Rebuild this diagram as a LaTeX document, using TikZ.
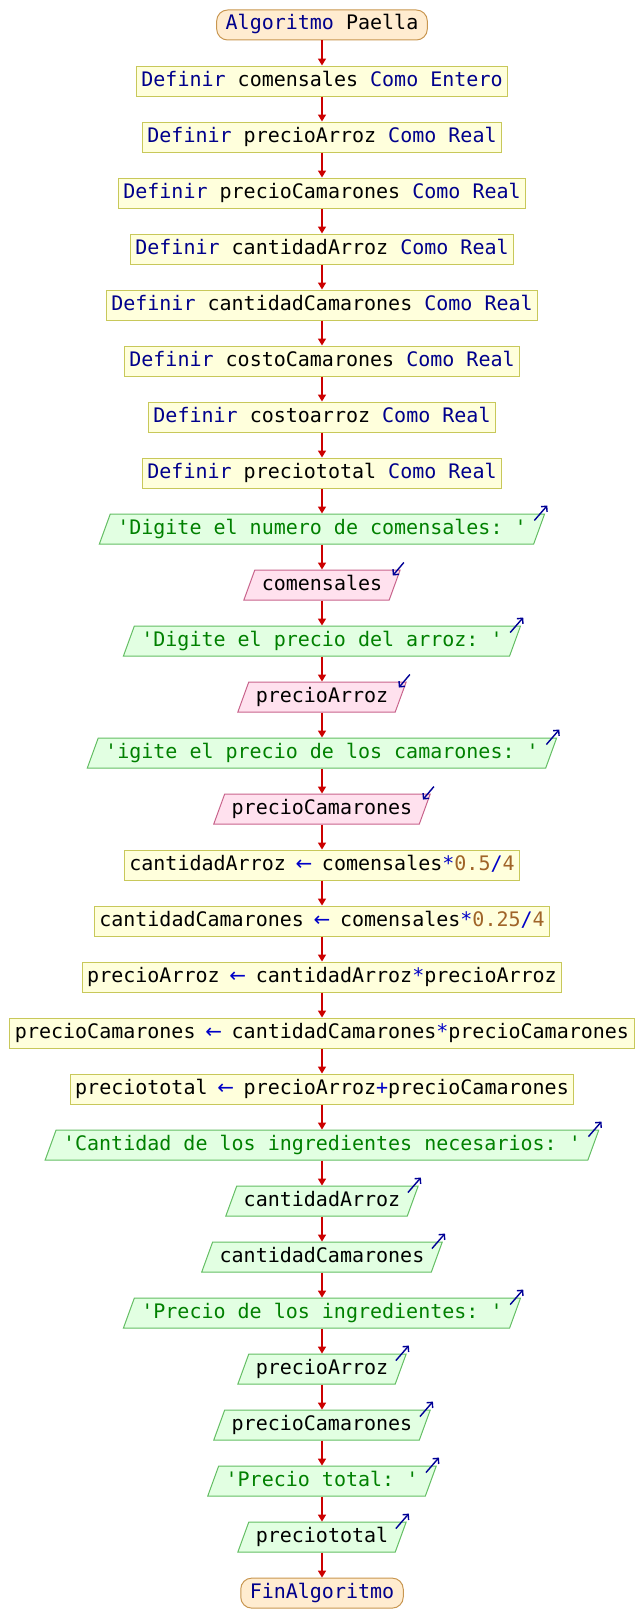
\documentclass[tikz,border=0pt]{standalone}
\usepackage{fontspec}
\setmonofont{DejaVu Sans Mono}
\newfontfamily\flechafont{DejaVu Sans}
\usetikzlibrary{positioning,shapes.geometric,arrows.meta}
\definecolor{kwazul}{RGB}{0,0,140}
\definecolor{opazul}{RGB}{0,0,200}
\definecolor{cadverde}{RGB}{0,128,0}
\definecolor{nromarron}{RGB}{160,100,40}
\definecolor{flecha}{RGB}{204,0,0}
\definecolor{iconazul}{RGB}{0,0,150}
\definecolor{termfondo}{RGB}{255,236,208}
\definecolor{termborde}{RGB}{200,150,80}
\definecolor{procfondo}{RGB}{255,255,220}
\definecolor{procborde}{RGB}{200,200,90}
\definecolor{salfondo}{RGB}{226,255,226}
\definecolor{salborde}{RGB}{100,190,100}
\definecolor{entfondo}{RGB}{255,225,238}
\definecolor{entborde}{RGB}{200,100,140}
\newcommand{\kw}[1]{\textcolor{kwazul}{#1}}
\newcommand{\cad}[1]{\textcolor{cadverde}{#1}}
\newcommand{\nro}[1]{\textcolor{nromarron}{#1}}
\newcommand{\op}[1]{\textcolor{opazul}{#1}}
\newcommand{\asig}{\op{\makebox[12bp]{\flechafont ←}}}
\begin{document}
\begin{tikzpicture}[
		x=1bp,y=1bp,
		node distance=25bp,
		every node/.style={font=\ttfamily\fontsize{20bp}{24bp}\selectfont,text height=14bp,text depth=4bp,inner ysep=6bp,line width=1bp},
		terminal/.style={draw=termborde,fill=termfondo,rounded corners=11bp,inner xsep=9bp},
		proceso/.style={draw=procborde,fill=procfondo,inner xsep=5bp},
		salida/.style={trapezium,trapezium left angle=70,trapezium right angle=110,draw=salborde,fill=salfondo,inner xsep=7bp},
		entrada/.style={salida,draw=entborde,fill=entfondo},
		flujo/.style={draw=flecha,line width=1.5bp,-{Triangle[length=7bp,width=8bp]}},
		icono/.style={draw=iconazul,line width=1.4bp,-{Straight Barb[length=4bp,width=8bp]}}
		]
		\useasboundingbox (0,0) rectangle (644,-1615);
		\node[terminal] (n0) at (322,-25) {\kw{Algoritmo} Paella};
		\node[proceso,below=of n0] (n1) {\kw{Definir} comensales \kw{Como Entero}};
		\node[proceso,below=of n1] (n2) {\kw{Definir} precioArroz \kw{Como Real}};
		\node[proceso,below=of n2] (n3) {\kw{Definir} precioCamarones \kw{Como Real}};
		\node[proceso,below=of n3] (n4) {\kw{Definir} cantidadArroz \kw{Como Real}};
		\node[proceso,below=of n4] (n5) {\kw{Definir} cantidadCamarones \kw{Como Real}};
		\node[proceso,below=of n5] (n6) {\kw{Definir} costoCamarones \kw{Como Real}};
		\node[proceso,below=of n6] (n7) {\kw{Definir} costoarroz \kw{Como Real}};
		\node[proceso,below=of n7] (n8) {\kw{Definir} preciototal \kw{Como Real}};
		\node[salida,below=of n8] (n9) {\cad{'Digite el numero de comensales: '}};
		\node[entrada,below=of n9] (n10) {comensales};
		\node[salida,below=of n10] (n11) {\cad{'Digite el precio del arroz: '}};
		\node[entrada,below=of n11] (n12) {precioArroz};
		\node[salida,below=of n12] (n13) {\cad{'igite el precio de los camarones: '}};
		\node[entrada,below=of n13] (n14) {precioCamarones};
		\node[proceso,below=of n14] (n15) {cantidadArroz \asig{} comensales\op{*}\nro{0.5}\op{/}\nro{4}};
		\node[proceso,below=of n15] (n16) {cantidadCamarones \asig{} comensales\op{*}\nro{0.25}\op{/}\nro{4}};
		\node[proceso,below=of n16] (n17) {precioArroz \asig{} cantidadArroz\op{*}precioArroz};
		\node[proceso,below=of n17] (n18) {precioCamarones \asig{} cantidadCamarones\op{*}precioCamarones};
		\node[proceso,below=of n18] (n19) {preciototal \asig{} precioArroz\op{+}precioCamarones};
		\node[salida,below=of n19] (n20) {\cad{'Cantidad de los ingredientes necesarios: '}};
		\node[salida,below=of n20] (n21) {cantidadArroz};
		\node[salida,below=of n21] (n22) {cantidadCamarones};
		\node[salida,below=of n22] (n23) {\cad{'Precio de los ingredientes: '}};
		\node[salida,below=of n23] (n24) {precioArroz};
		\node[salida,below=of n24] (n25) {precioCamarones};
		\node[salida,below=of n25] (n26) {\cad{'Precio total: '}};
		\node[salida,below=of n26] (n27) {preciototal};
		\node[terminal,below=of n27] (n28) {\kw{FinAlgoritmo}};
		\foreach \i in {1,...,28}{
			\pgfmathtruncatemacro\k{\i-1}
			\draw[flujo] (n\k.south) -- (n\i.north);
		}
		\foreach \n in {n9,n11,n13,n20,n21,n22,n23,n24,n25,n26,n27}
			\draw[icono] ([shift={(-11,-7)}]\n.top right corner) -- ++(13,15);
		\foreach \n in {n10,n12,n14}
			\draw[icono] ([shift={(3,7)}]\n.top right corner) -- ++(-11,-13);
\end{tikzpicture}
\end{document}
